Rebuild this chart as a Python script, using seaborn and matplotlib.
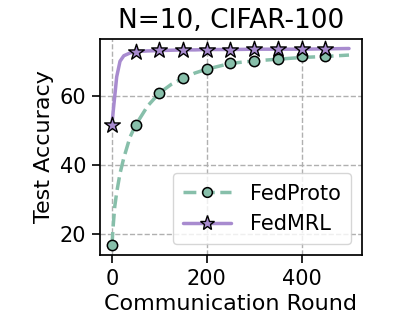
import numpy as np
import pandas as pd
import matplotlib
matplotlib.use("Agg")
import matplotlib.pyplot as plt
from matplotlib.lines import Line2D
import seaborn as sns

sns.set_style("ticks")
plt.rcParams['font.family'] = ['DejaVu Sans']
plt.rcParams.update({"text.color": "black", "axes.labelcolor": "black",
                     "xtick.color": "black", "ytick.color": "black"})

# curve values
rounds_line = [0, 3, 6, 10, 17, 25, 38, 50, 75, 100, 125, 150, 175, 200, 250, 300, 350, 400, 450, 500]
fedproto_line = [16.8, 23.0, 28.0, 32.0, 37.5, 42.0, 48.0, 51.5, 57.0, 60.8, 63.3, 65.1, 66.6, 67.7, 69.4, 70.1, 70.6, 71.1, 71.4, 71.8]
fedmrl_line = [51.6, 56.0, 60.0, 65.5, 70.0, 71.6, 72.4, 72.8, 73.0, 73.1, 73.2, 73.3, 73.3, 73.4, 73.4, 73.5, 73.5, 73.5, 73.6, 73.7]

rounds_mark = [0, 50, 100, 150, 200, 250, 300, 350, 400, 450]
fedproto_mark = [16.8, 51.5, 60.8, 65.1, 67.7, 69.4, 70.1, 70.6, 71.4, 71.4]
fedmrl_mark = [51.6, 72.8, 73.2, 73.3, 73.4, 73.4, 73.5, 73.5, 73.5, 73.6]

methods = ["FedProto", "FedMRL"]
c_proto = "#87bfaa"
c_mrl = "#a88bcf"

fig = plt.figure(figsize=(4.02, 3.21), dpi=100)
ax = fig.add_axes([0.249, 0.206, 0.651, 0.673])

sns.lineplot(x=rounds_line, y=fedproto_line, ax=ax, color=c_proto, lw=2.5,
             linestyle="--", zorder=2)
sns.lineplot(x=rounds_line, y=fedmrl_line, ax=ax, color=c_mrl, lw=2.5, zorder=2)
sns.scatterplot(x=rounds_mark, y=fedproto_mark, ax=ax, color=c_proto, marker="o",
                s=55, edgecolor="black", linewidth=1.1, zorder=3)
sns.scatterplot(x=rounds_mark, y=fedmrl_mark, ax=ax, color=c_mrl, marker="*",
                s=140, edgecolor="black", linewidth=1.0, zorder=4)

ax.set_xlim(-25, 527)
ax.set_ylim(13.9, 76.5)
ax.set_xticks([0, 200, 400])
ax.set_yticks([20, 40, 60])
ax.grid(True, linestyle="--", color="#b0b0b0", lw=1.0)
ax.tick_params(labelsize=15, length=6, width=1.2, pad=4)
for s in ax.spines.values():
    s.set_color("black")
    s.set_linewidth(1.25)
ax.set_xlabel("Communication Round", fontsize=16)
ax.set_ylabel("Test Accuracy", fontsize=16)
ax.set_title("N=10, CIFAR-100", fontsize=19, pad=8)

handles = [
    Line2D([], [], color=c_proto, lw=2.5, linestyle="--", marker="o",
           markersize=7, markerfacecolor=c_proto, markeredgecolor="black", markeredgewidth=1.1),
    Line2D([], [], color=c_mrl, lw=2.5, marker="*", markersize=11,
           markerfacecolor=c_mrl, markeredgecolor="black", markeredgewidth=1.0),
]
ax.legend(handles, methods, loc="lower right", fontsize=15, frameon=True,
          handlelength=2.3, borderpad=0.5, labelspacing=0.5, handletextpad=0.9)

fig.savefig("out.png", dpi=100)
